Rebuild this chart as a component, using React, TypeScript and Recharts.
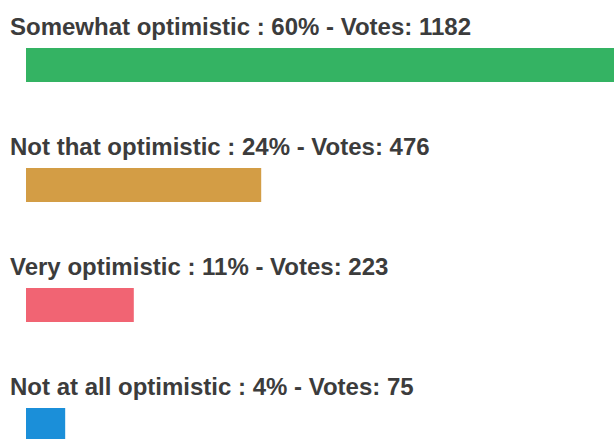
import React from 'react';
import { BarChart, Bar, XAxis, YAxis, Cell, LabelList } from 'recharts';

const answers = ['Somewhat optimistic', 'Not that optimistic', 'Very optimistic', 'Not at all optimistic'];
const percents = [60, 24, 11, 4];
const votes = [1182, 476, 223, 75];
const colors = ['#34B363', '#D39D45', '#F16473', '#1B8FD9'];

const data = answers.map((name, i) => ({
    name,
    pct: percents[i],
    votes: votes[i],
}));

const renderLabel = (props: any) => {
    const { x, y, index } = props;
    const row = data[index];
    return (
        <text
            x={x - 16}
            y={y - 13.5}
            fill="#3c3c3c"
            fontSize={24}
            fontWeight="bold"
            fontFamily="'Liberation Sans', Arial, sans-serif"
        >
            {`${row.name} : ${row.pct}% - Votes: ${row.votes}`}
        </text>
    );
};

export default function App() {
    return (
        <div style={{ position: 'absolute', left: 0, top: 0, width: 614, height: 439, overflow: 'hidden', background: '#fff' }}>
            <BarChart
                width={614}
                height={485}
                data={data}
                layout="vertical"
                margin={{ top: 5, right: 0, bottom: 0, left: 26 }}
            >
                <XAxis type="number" domain={[0, 60]} hide />
                <YAxis type="category" dataKey="name" hide />
                <Bar dataKey="pct" barSize={34} isAnimationActive={false}>
                    {data.map((d, i) => (
                        <Cell key={d.name} fill={colors[i]} />
                    ))}
                    <LabelList dataKey="pct" content={renderLabel} />
                </Bar>
            </BarChart>
        </div>
    );
}
